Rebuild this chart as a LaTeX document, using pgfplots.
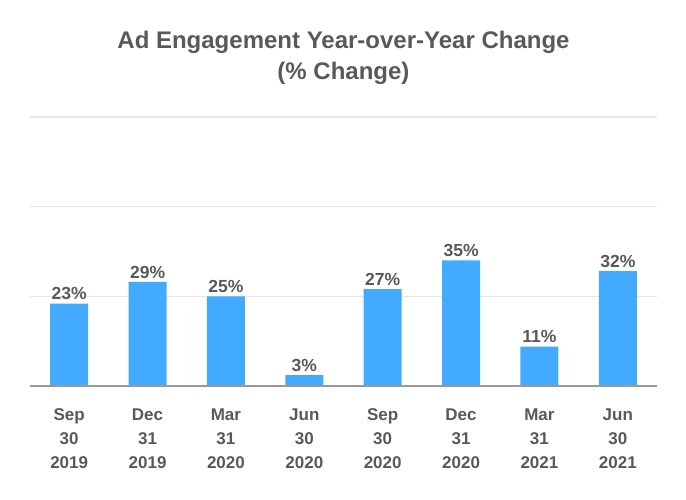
\documentclass[border=0pt]{standalone}
\usepackage{pgfplots}
\pgfplotsset{compat=1.18}
\usepackage{fontspec}
\setmainfont{Liberation Sans}
\definecolor{barblue}{HTML}{42AAFF}
\definecolor{txtgray}{HTML}{595959}
\definecolor{gridgray}{HTML}{E6E6E6}
\definecolor{axisgray}{HTML}{999999}
\begin{document}
\begin{tikzpicture}[x=1pt,y=1pt]
\begin{axis}[
  at={(0,0)}, anchor=south west,
  scale only axis,
  width=627pt, height=269pt,
  xmin=-0.5, xmax=7.5,
  ymin=0, ymax=75,
  ytick={0,25,50,75},
  yticklabels={},
  ymajorgrids,
  major grid style={gridgray, line width=1.2pt},
  major tick length=0pt,
  axis line style={draw=none},
  /pgf/number format/assume math mode=true,
  xtick={0,...,7},
  xticklabels={{Sep\\30\\2019},{Dec\\31\\2019},{Mar\\31\\2020},{Jun\\30\\2020},{Sep\\30\\2020},{Dec\\31\\2020},{Mar\\31\\2021},{Jun\\30\\2021}},
  xticklabel style={align=center, font=\fontsize{17}{24}\selectfont\bfseries, text=txtgray, yshift=-19pt},
  ybar, bar width=38pt,
  nodes near coords={\pgfmathprintnumber{\pgfplotspointmeta}\%},
  nodes near coords style={font=\fontsize{17.5}{20}\selectfont\bfseries, text=txtgray, yshift=0pt},
  clip=false,
]
\addplot[fill=barblue, draw=none] coordinates {(0,23) (1,29) (2,25) (3,3) (4,27) (5,35) (6,11) (7,32)};
\draw[axisgray, line width=1.5pt] (rel axis cs:0,0) -- (rel axis cs:1,0);
\node[font=\fontsize{24}{31}\selectfont\bfseries, text=txtgray, align=center, anchor=center] at (rel axis cs:0.5,1) [yshift=59pt] {Ad Engagement Year-over-Year Change\\(\% Change)};
\end{axis}
\useasboundingbox (-30,-114) rectangle (656,386);
\end{tikzpicture}
\end{document}
